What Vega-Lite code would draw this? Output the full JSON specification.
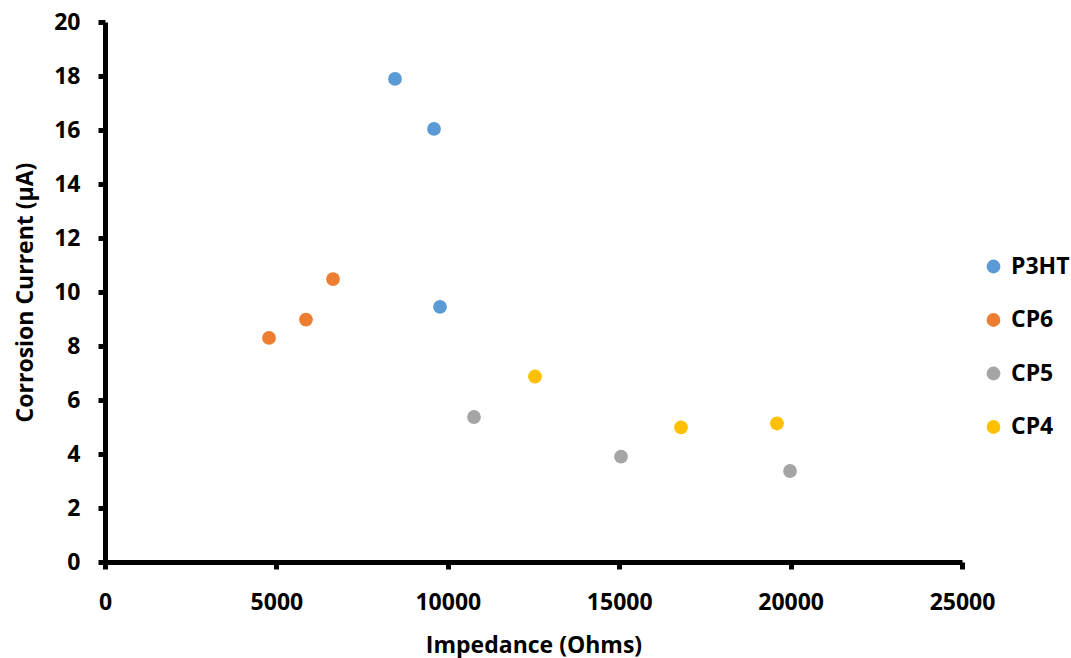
{
  "$schema": "https://vega.github.io/schema/vega-lite/v6.json",
  "width": 857,
  "height": 540,
  "autosize": {"type": "none"},
  "padding": {"left": 105, "top": 22, "right": 109, "bottom": 96},
  "background": "white",
  "config": {
    "view": {"stroke": null},
    "font": "Open Sans",
    "axis": {
      "grid": false,
      "domainColor": "black",
      "domainWidth": 5,
      "tickColor": "black",
      "tickWidth": 5,
      "tickSize": 7,
      "labelFont": "Open Sans",
      "labelFontSize": 23,
      "labelFontWeight": "bold",
      "labelColor": "black",
      "titleFont": "Open Sans",
      "titleFontSize": 23,
      "titleFontWeight": "bold",
      "titleColor": "black"
    }
  },
  "data": {
    "values": [
      {"series": "P3HT", "impedance": 8460, "current": 17.89},
      {"series": "P3HT", "impedance": 9598, "current": 16.04},
      {"series": "P3HT", "impedance": 9773, "current": 9.45},
      {"series": "CP6", "impedance": 4784, "current": 8.3},
      {"series": "CP6", "impedance": 5863, "current": 8.98},
      {"series": "CP6", "impedance": 6651, "current": 10.48},
      {"series": "CP5", "impedance": 10764, "current": 5.37},
      {"series": "CP5", "impedance": 15053, "current": 3.9},
      {"series": "CP5", "impedance": 19983, "current": 3.37},
      {"series": "CP4", "impedance": 12544, "current": 6.87},
      {"series": "CP4", "impedance": 16803, "current": 4.99},
      {"series": "CP4", "impedance": 19603, "current": 5.13}
    ]
  },
  "mark": {"type": "circle", "size": 190, "opacity": 1},
  "encoding": {
    "x": {
      "field": "impedance",
      "type": "quantitative",
      "title": "Impedance (Ohms)",
      "scale": {"domain": [0, 25000], "nice": false, "zero": true},
      "axis": {"values": [0, 5000, 10000, 15000, 20000, 25000], "format": "d", "labelPadding": 22, "titlePadding": 20, "labelFlush": false, "domainWidth": 5, "tickWidth": 5}
    },
    "y": {
      "field": "current",
      "type": "quantitative",
      "title": "Corrosion Current (µA)",
      "scale": {"domain": [0, 20], "nice": false},
      "axis": {"values": [0, 2, 4, 6, 8, 10, 12, 14, 16, 18, 20], "labelPadding": 18, "titlePadding": 16, "labelFlush": false, "domainWidth": 5, "tickWidth": 5}
    },
    "color": {
      "field": "series",
      "type": "nominal",
      "scale": {"domain": ["P3HT", "CP6", "CP5", "CP4"], "range": ["#5B9BD5", "#ED7D31", "#A5A5A5", "#FFC000"]},
      "legend": {
        "title": null,
        "orient": "none",
        "legendX": 877,
        "legendY": 233,
        "symbolType": "circle",
        "symbolSize": 190,
        "symbolOpacity": 1,
        "symbolStrokeWidth": 0,
        "labelFont": "Open Sans",
        "labelFontSize": 23,
        "labelFontWeight": "bold",
        "labelColor": "black",
        "labelOffset": 6,
        "rowPadding": 29.5
      }
    }
  }
}
